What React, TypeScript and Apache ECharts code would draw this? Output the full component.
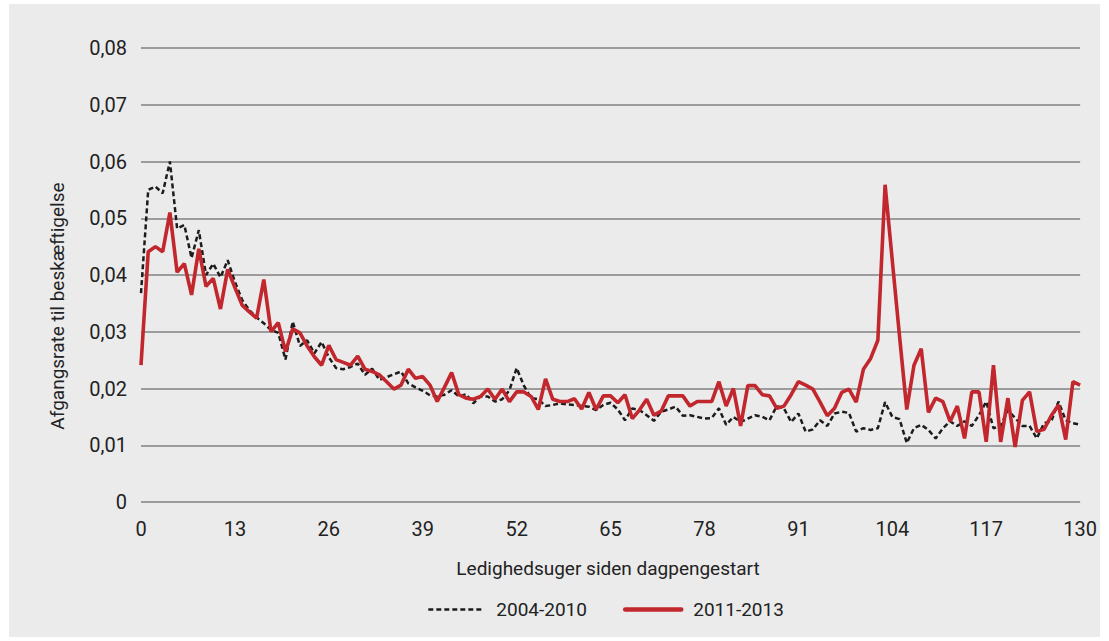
import React, { useEffect, useRef } from "react";
import * as echarts from "echarts";

const seriesNames = ["2004-2010", "2011-2013"];
const xTicks = [0, 13, 26, 39, 52, 65, 78, 91, 104, 117, 130];

const rate2004_2010 = [
  0.0368, 0.055, 0.0556, 0.0544, 0.06, 0.0482, 0.0488, 0.043, 0.0479, 0.04,
  0.042, 0.0396, 0.0426, 0.0388, 0.0356, 0.0338, 0.0325, 0.0315, 0.0303, 0.0298,
  0.0251, 0.0318, 0.0275, 0.0285, 0.0262, 0.0282, 0.0255, 0.0236, 0.0234, 0.0238,
  0.0244, 0.0224, 0.0235, 0.0215, 0.022, 0.0225, 0.023, 0.0209, 0.0202, 0.0196,
  0.0188, 0.0186, 0.0189, 0.0197, 0.0186, 0.019, 0.0174, 0.0186, 0.0186, 0.0177,
  0.0181, 0.0197, 0.0236, 0.0205, 0.0183, 0.0181, 0.0169, 0.0171, 0.0174, 0.0172,
  0.0171, 0.0169, 0.0168, 0.0162, 0.0171, 0.0175, 0.0163, 0.0144, 0.0165, 0.0162,
  0.0153, 0.0143, 0.0159, 0.0163, 0.0168, 0.0152, 0.0153, 0.015, 0.0147, 0.0148,
  0.0165, 0.0136, 0.015, 0.0141, 0.0147, 0.0153, 0.015, 0.0144, 0.0169, 0.0165,
  0.0141, 0.0156, 0.0124, 0.0128, 0.0144, 0.0134, 0.0156, 0.0159, 0.0157, 0.0124,
  0.013, 0.0127, 0.013, 0.0176, 0.015, 0.0146, 0.0104, 0.013, 0.0136, 0.0127,
  0.0112, 0.013, 0.0142, 0.0134, 0.0142, 0.0134, 0.0153, 0.0177, 0.013, 0.0134,
  0.0162, 0.0148, 0.0134, 0.0134, 0.0112, 0.0139, 0.0142, 0.0177, 0.0144, 0.0139,
  0.0136,
];

const rate2011_2013 = [
  0.0241, 0.0441, 0.045, 0.0441, 0.051, 0.0405, 0.042, 0.0365, 0.0446, 0.038,
  0.0394, 0.034, 0.041, 0.0378, 0.0347, 0.0335, 0.0324, 0.0392, 0.03, 0.0316,
  0.0265, 0.0305, 0.0298, 0.0275, 0.0256, 0.0241, 0.0276, 0.0251, 0.0246, 0.0241,
  0.0257, 0.0234, 0.023, 0.0224, 0.0212, 0.0199, 0.0206, 0.0234, 0.0218, 0.0221,
  0.0206, 0.0177, 0.0202, 0.0228, 0.0189, 0.0183, 0.0181, 0.0186, 0.0199, 0.0181,
  0.0199, 0.0177, 0.0194, 0.0194, 0.0186, 0.0163, 0.0217, 0.0181, 0.0177, 0.0177,
  0.0182, 0.0164, 0.0193, 0.0163, 0.0187, 0.0187, 0.0175, 0.0189, 0.0147, 0.0162,
  0.0181, 0.0153, 0.016, 0.0187, 0.0187, 0.0187, 0.0169, 0.0177, 0.0177, 0.0177,
  0.0212, 0.0169, 0.02, 0.0134, 0.0205, 0.0205, 0.0189, 0.0187, 0.0165, 0.0169,
  0.0189, 0.0212, 0.0206, 0.0199, 0.0176, 0.0152, 0.0165, 0.0193, 0.0199, 0.0176,
  0.0234, 0.0253, 0.0285, 0.0559, 0.0425, 0.0292, 0.0163, 0.0241, 0.027, 0.0158,
  0.0183, 0.0177, 0.0142, 0.0169, 0.0112, 0.0194, 0.0194, 0.0106, 0.0241, 0.0106,
  0.0183, 0.0097, 0.0179, 0.0194, 0.0124, 0.0128, 0.0152, 0.0171, 0.011, 0.0212,
  0.0206,
];

const yAxisTitle = "Afgangsrate til beskæftigelse";
const xAxisTitle = "Ledighedsuger siden dagpengestart";

const FONT = "Roboto, 'Noto Sans', sans-serif";
const TEXT = "#222222";
const BLACK = "#1c1c1c";
const RED = "#c1272d";

export default function App() {
  const ref = useRef<HTMLDivElement>(null);

  useEffect(() => {
    if (!ref.current) return;
    const chart = echarts.init(ref.current, null, { renderer: "svg" });
    const toPairs = (arr: number[]) => arr.map((v, i) => [i, v]);
    chart.setOption({
      animation: false,
      backgroundColor: "#ebebeb",
      textStyle: { fontFamily: FONT },
      grid: { left: 132, right: 19, top: 44, bottom: 135 },
      xAxis: {
        type: "value",
        min: xTicks[0],
        max: xTicks[xTicks.length - 1],
        interval: 13,
        axisLine: { show: false },
        axisTick: { show: false },
        splitLine: { show: false },
        axisLabel: {
          margin: 17,
          fontSize: 20,
          fontFamily: FONT,
          color: (v: number) => (v === 0 ? "#8a8a8a" : TEXT),
        },
      },
      yAxis: {
        type: "value",
        min: 0,
        max: 0.08,
        interval: 0.01,
        axisLine: { show: false },
        axisTick: { show: false },
        splitLine: { lineStyle: { color: "#9c9c9c", width: 1.8 } },
        axisLabel: {
          margin: 14,
          fontSize: 20,
          fontFamily: FONT,
          color: TEXT,
          formatter: (v: number) =>
            v === 0 ? "0" : v.toFixed(2).replace(".", ","),
        },
      },
      legend: {
        left: 413,
        top: 591,
        itemWidth: 56,
        itemHeight: 14,
        itemGap: 36,
        itemStyle: { opacity: 0 },
        textStyle: {
          fontSize: 19,
          fontFamily: FONT,
          color: TEXT,
          padding: [0, 0, 0, 7],
        },
        data: [
          { name: seriesNames[0], lineStyle: { width: 2.6, type: [5, 3] } },
          { name: seriesNames[1], lineStyle: { width: 4.5, cap: "round" } },
        ],
      },
      graphic: [
        {
          type: "text",
          x: 48,
          y: 302,
          rotation: Math.PI / 2,
          style: {
            text: yAxisTitle,
            font: `19px ${FONT}`,
            fill: TEXT,
            align: "center",
            verticalAlign: "middle",
          },
        },
        {
          type: "text",
          x: 599,
          y: 564,
          style: {
            text: xAxisTitle,
            font: `19px ${FONT}`,
            fill: TEXT,
            align: "center",
            verticalAlign: "middle",
          },
        },
      ],
      series: [
        {
          name: seriesNames[0],
          type: "line",
          symbol: "none",
          data: toPairs(rate2004_2010),
          lineStyle: { color: BLACK, width: 2.5, type: [5, 3] },
          itemStyle: { color: BLACK },
          z: 2,
        },
        {
          name: seriesNames[1],
          type: "line",
          symbol: "none",
          data: toPairs(rate2011_2013),
          lineStyle: { color: RED, width: 3.6 },
          itemStyle: { color: RED },
          z: 3,
        },
      ],
    });
    return () => chart.dispose();
  }, []);

  return (
    <div
      style={{
        position: "fixed",
        left: 9,
        top: 4,
        width: 1091,
        height: 633,
        background: "#ebebeb",
      }}
    >
      <div ref={ref} style={{ width: 1091, height: 633 }} />
    </div>
  );
}
